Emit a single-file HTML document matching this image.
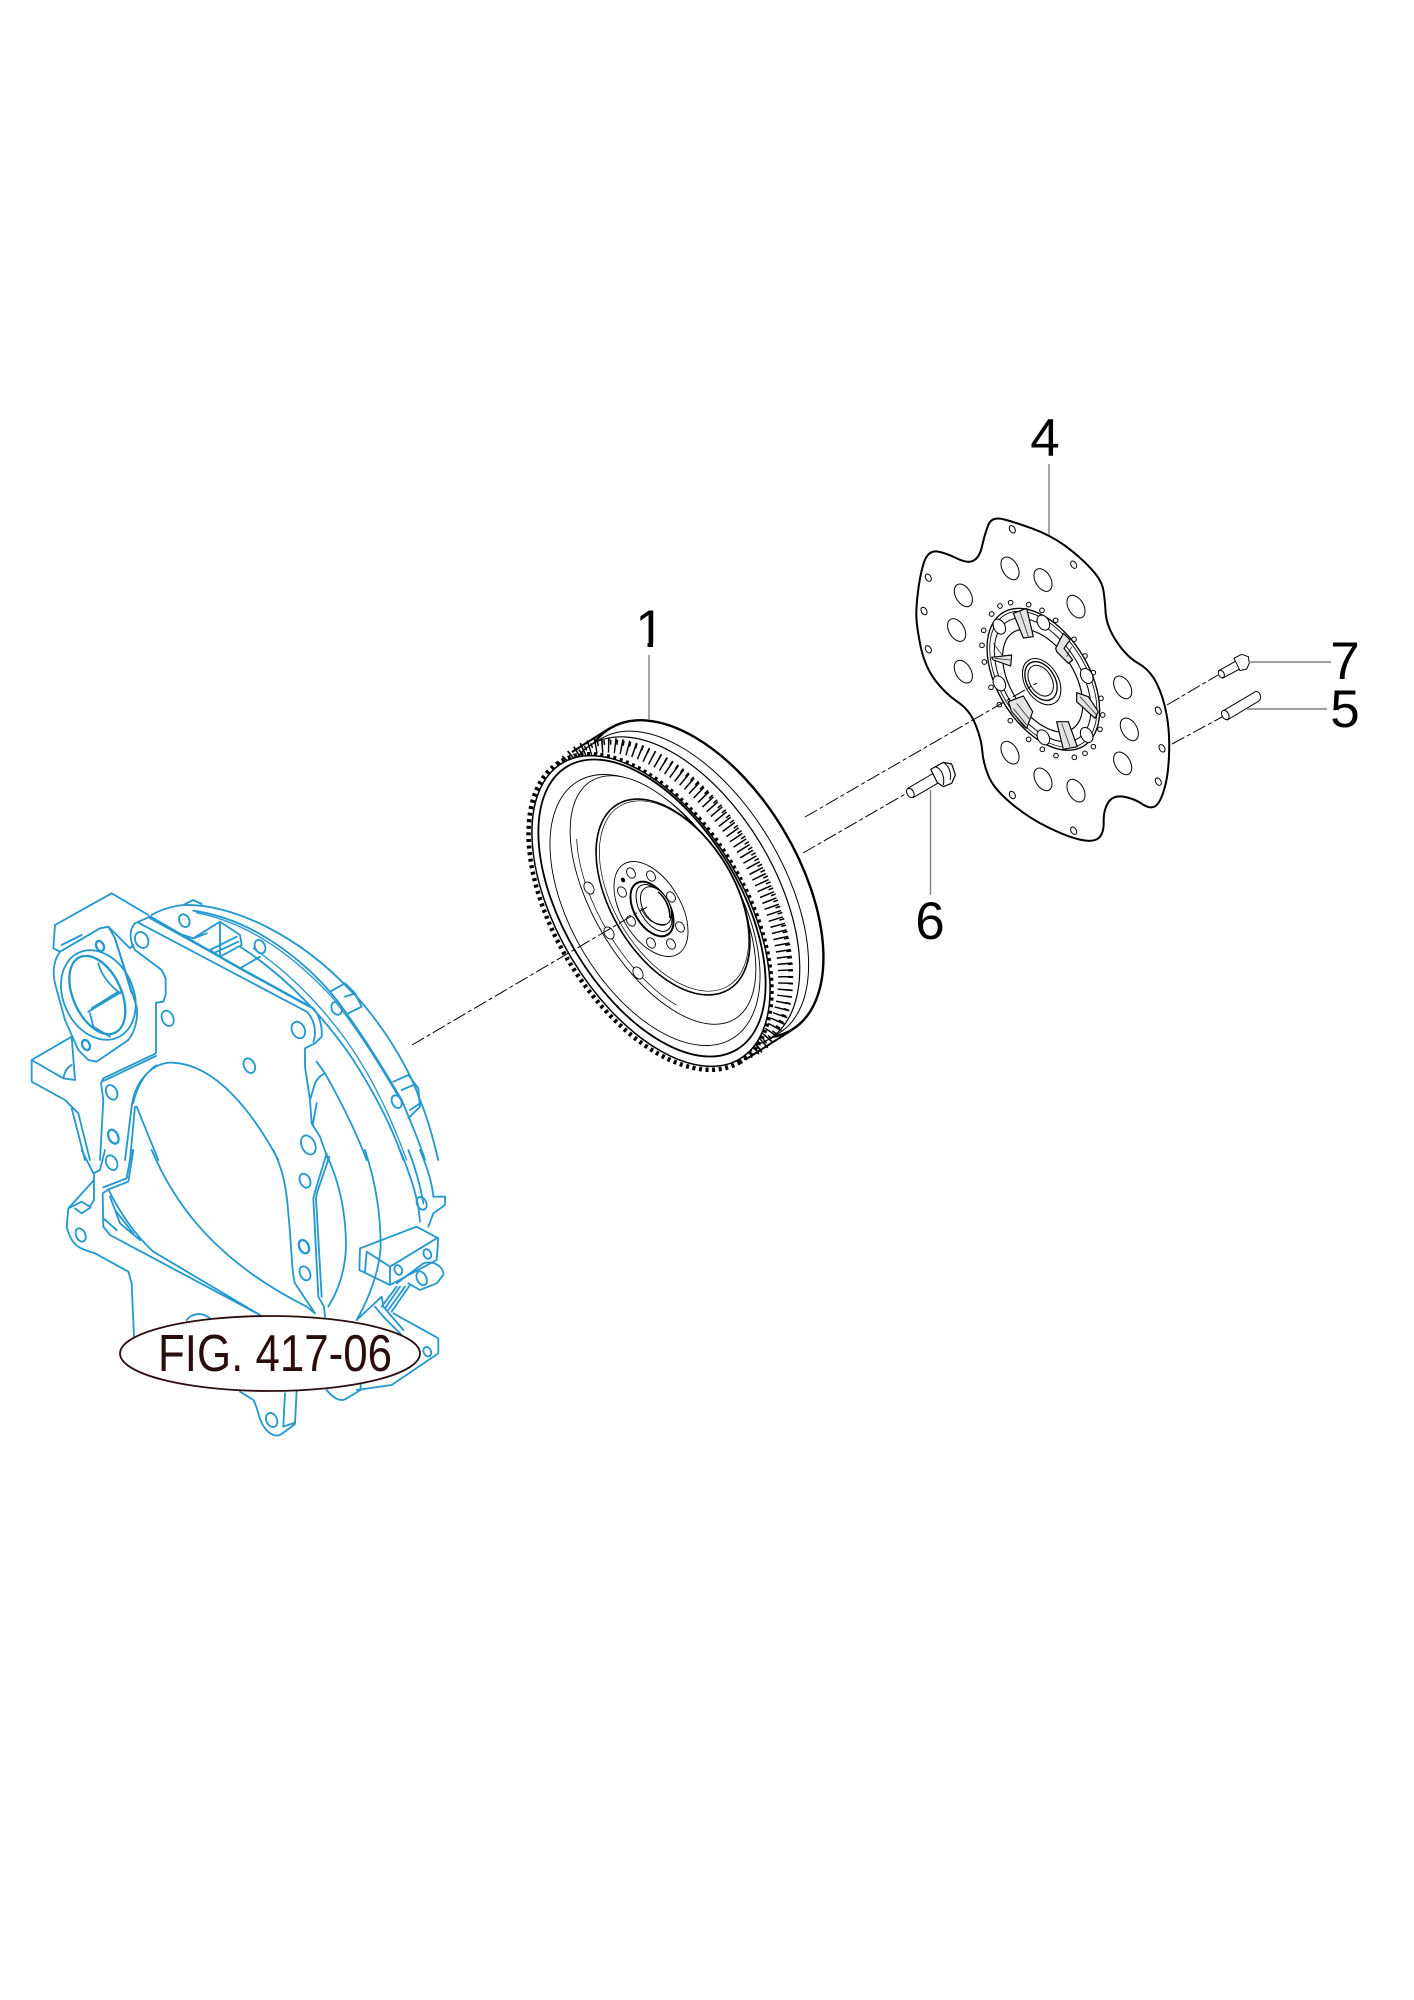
<!DOCTYPE html>
<html><head><meta charset="utf-8"><style>
html,body{margin:0;padding:0;background:#fff}
svg{display:block}
text{font-family:"Liberation Sans",sans-serif}
</style></head><body>
<svg width="1414" height="2000" viewBox="0 0 1414 2000" xmlns="http://www.w3.org/2000/svg">
<rect width="1414" height="2000" fill="#fff"/>

<!-- BLUE HOUSING upper -->
<g transform="translate(20,880) scale(.33333)" fill="none" stroke="#2498cf" stroke-width="5.5" stroke-linejoin="round" stroke-linecap="round">
<path d="M490,75 C640,70 840,170 990,330 L1010,350 C1090,440 1150,540 1185,620 L1200,660 C1225,720 1240,780 1255,840"/>
<path d="M395,105 C420,90 450,80 490,75 L520,60 L545,72"/>
<path d="M520,92 C720,120 880,270 950,360 C1040,480 1110,600 1145,660 C1170,720 1200,790 1215,840"/>
<path d="M530,98 C720,135 860,270 935,350 C1030,470 1100,590 1135,650" stroke-width="4"/>
<path d="M660,200 C800,290 920,420 1000,540 C1070,650 1120,750 1150,840"/>
<path d="M700,205 C840,300 960,440 1030,560 C1090,660 1130,760 1160,840" stroke-width="4"/>
<path d="M345,130 L385,112 L880,385 C900,410 907,440 905,470 L885,490 L855,505 L855,560 L870,660 L875,730 L900,770 L925,840"/>
<path d="M345,130 C325,150 330,185 345,210 L425,270 L437,295 L437,345 L430,365 L408,368 L408,520 L250,595 L243,610 L250,660 L240,840"/>
<path d="M355,128 L860,395 C885,420 890,460 880,485"/>
<path d="M390,110 L660,265 L870,380" stroke-width="7"/>
<path d="M408,528 L250,603"/>
<path d="M105,135 L275,40 L385,105 M105,135 L100,205 L120,215 M125,195 L185,165"/>
<path d="M105,310 C95,270 105,235 120,215 L240,145 L265,140 L285,175 L350,380 C355,415 345,455 325,480 L230,545 L205,540 L175,510 L135,420 Z"/>
<path d="M265,140 L330,205 L340,195 M285,175 L335,340"/>
<ellipse cx="235" cy="345" rx="105" ry="140" transform="rotate(-25 235 345)"/>
<ellipse cx="232" cy="345" rx="72" ry="125" transform="rotate(-25 232 345)" stroke-width="7"/>
<path d="M205,395 L305,335 M215,385 L295,335 M210,400 L220,440 L270,470 M235,250 C245,290 275,320 300,340"/>
<ellipse cx="240" cy="198" rx="11" ry="16" transform="rotate(-25 240 198)" stroke-width="7"/>
<ellipse cx="198" cy="495" rx="11" ry="16" transform="rotate(-25 198 495)" stroke-width="7"/>
<path d="M155,470 L35,540 L35,605 L135,660 L175,700 M35,540 L130,595 L165,600 L155,470 M130,595 C135,570 145,560 155,555 M175,700 L210,840 M155,685 L195,840" />
<path d="M335,680 C345,600 400,545 460,548 C590,555 700,700 775,840"/>
<path d="M340,670 C355,605 390,565 410,555" stroke-width="4"/>
<path d="M350,680 L415,840 M335,680 L315,840 M345,680 L330,840"/>
<path d="M520,175 L600,125 L660,165 L665,195 L600,230 L570,210 M490,165 L520,175 L560,160 M600,125 L600,230 M570,210 L650,170 M580,220 L655,185 M660,265 L720,230"/>
<path d="M930,335 L975,310 L1005,340 L1025,380 L985,400 M975,350 L1005,340 M1120,605 L1165,585 L1195,625 L1200,680 L1165,715 M1145,630 L1180,615 M1170,690 L1200,670"/>
<path d="M890,545 L915,580 C960,660 1010,760 1040,840 M885,610 C895,590 905,585 915,580 M885,610 L870,660 M890,670 L878,735"/>
<g>
<ellipse cx="365" cy="180" rx="19" ry="25" transform="rotate(-25 365 180)"/>
<ellipse cx="493" cy="122" rx="15" ry="20" transform="rotate(-25 493 122)"/>
<ellipse cx="720" cy="200" rx="15" ry="21" transform="rotate(-25 720 200)"/>
<ellipse cx="950" cy="385" rx="15" ry="20" transform="rotate(-25 950 385)"/>
<ellipse cx="1130" cy="665" rx="14" ry="20" transform="rotate(-25 1130 665)"/>
<ellipse cx="443" cy="415" rx="17" ry="24" transform="rotate(-25 443 415)"/>
<ellipse cx="835" cy="450" rx="19" ry="26" transform="rotate(-25 835 450)"/>
<ellipse cx="688" cy="557" rx="16" ry="23" transform="rotate(-25 688 557)"/>
<ellipse cx="275" cy="637" rx="16" ry="23" transform="rotate(-25 275 637)"/>
<ellipse cx="280" cy="770" rx="14" ry="22" transform="rotate(-25 280 770)" stroke-width="7"/>
<ellipse cx="865" cy="795" rx="20" ry="30" transform="rotate(-25 865 795)"/>
</g>
</g>

<!-- BLUE HOUSING lower -->
<g transform="translate(20,1150) scale(.33333)" fill="none" stroke="#2498cf" stroke-width="5.5" stroke-linejoin="round" stroke-linecap="round">
<path d="M185,0 L220,70 L240,60 L255,0 M222,90 L145,175 L140,230 C150,270 165,290 195,300 L225,310 L325,365 L335,400 L342,560"/>
<path d="M222,70 L222,150 L210,170 L185,155 L145,175 M165,175 L185,190 L212,172"/>
<path d="M340,0 L325,95 L265,118 L248,130 L250,230 L270,255 L720,495"/>
<path d="M335,0 L320,85 L250,112"/>
<path d="M265,118 C300,190 350,260 400,305 L720,495 M250,205 L290,240 M270,140 L300,220 L360,270 M285,180 L340,250"/>
<path d="M395,0 C450,130 560,320 860,470 L885,490"/>
<path d="M760,0 C790,60 800,120 805,190 C815,290 815,370 825,400 L885,490"/>
<path d="M920,10 L885,125 L880,145 L895,440 L912,470 L915,500"/>
<path d="M928,20 L892,125 L888,145 L905,440"/>
<path d="M920,15 C960,100 978,190 978,290 C975,370 950,430 925,470"/>
<path d="M1035,0 C1065,90 1082,190 1082,290 C1078,360 1050,440 1010,510"/>
<path d="M1140,0 C1165,60 1185,120 1195,170 L1200,215 M1165,0 C1185,50 1200,100 1210,160 M1200,0 C1220,50 1235,90 1240,140 L1275,140 L1275,165 L1240,190 L1225,230"/>
<path d="M1020,295 L1190,230 L1255,265 L1250,330 L1110,405 L1018,360 Z M1040,305 L1110,350 L1250,265 M1110,350 L1110,405 M1040,305 L1035,365"/>
<path d="M1130,400 L1190,355 L1210,340 C1240,330 1272,350 1270,375 L1250,400 L1200,420 L1165,400"/>
<path d="M1085,470 L1130,410 M1095,475 L1140,410 M1105,480 L1155,410 M1115,485 L1170,405"/>
<path d="M1010,510 L1085,440 L1090,470 L1150,540 M1065,470 L1090,500 L1145,555"/>
<path d="M1120,490 L1255,565 L1255,610 L1115,705 L1010,720"/>
<path d="M660,725 L700,750 C715,775 715,810 735,835 C750,855 770,862 785,852 L825,822 L830,720 M795,730 L790,830 L825,818"/>
<path d="M920,720 C940,745 960,755 975,748 L1022,720 L1022,700"/>
<path d="M500,510 C515,490 545,485 570,505"/>
<g>
<ellipse cx="275" cy="38" rx="16" ry="23" transform="rotate(-25 275 38)"/>
<ellipse cx="182" cy="255" rx="14" ry="21" transform="rotate(-25 182 255)"/>
<ellipse cx="855" cy="92" rx="15" ry="22" transform="rotate(-25 855 92)"/>
<ellipse cx="852" cy="290" rx="14" ry="21" transform="rotate(-25 852 290)" stroke-width="7"/>
<ellipse cx="855" cy="370" rx="15" ry="22" transform="rotate(-25 855 370)"/>
<ellipse cx="755" cy="810" rx="16" ry="22" transform="rotate(-25 755 810)"/>
<ellipse cx="1205" cy="160" rx="14" ry="20" transform="rotate(-25 1205 160)"/>
<ellipse cx="1135" cy="360" rx="11" ry="15" transform="rotate(-25 1135 360)"/>
<ellipse cx="1222" cy="312" rx="11" ry="15" transform="rotate(-25 1222 312)"/>
<ellipse cx="1222" cy="605" rx="11" ry="15" transform="rotate(-25 1222 605)"/>
<ellipse cx="1205" cy="385" rx="14" ry="22" transform="rotate(-25 1205 385)"/>
</g>
</g>

<!-- FIG ellipse -->
<ellipse cx="270" cy="1353.5" rx="150" ry="37.5" fill="#fff" stroke="#2a0e0e" stroke-width="1.8"/>
<text x="158" y="1371" font-size="52" fill="#2a0e0e" textLength="234" lengthAdjust="spacingAndGlyphs">FIG. 417-06</text>

<!-- FLYWHEEL -->
<g fill="#fff" stroke="#000">
<ellipse cx="701" cy="879" rx="176" ry="96" transform="rotate(59 701 879)" stroke-width="2.4"/>
<path d="M610,728 L572,752 M792,1030 L748,1058" stroke-width="2" fill="none"/>
<ellipse cx="690" cy="886" rx="172" ry="92" transform="rotate(59 690 886)" stroke-width="1"/>
<ellipse cx="680" cy="892" rx="172" ry="94" transform="rotate(59 680 892)" stroke-width="1.2"/>
<ellipse cx="667" cy="900" rx="172" ry="92" transform="rotate(59 667 900)" fill="none" stroke-width="15" stroke-dasharray="1.5 5"/>
<ellipse cx="672" cy="897" rx="172" ry="92" transform="rotate(59 672 897)" fill="none" stroke-width="5" stroke-dasharray="1.5 5" stroke-dashoffset="3"/>
<ellipse cx="650" cy="912" rx="175" ry="95" transform="rotate(59 650 912)" fill="none" stroke-width="4.5" stroke-dasharray="3 3.6"/>
<ellipse cx="651" cy="911" rx="172.5" ry="92.5" transform="rotate(59 651 911)" stroke-width="1.5"/>
<ellipse cx="652" cy="908" rx="165" ry="88" transform="rotate(59 652 908)" stroke-width="1.8"/>
<ellipse cx="655" cy="910" rx="150" ry="83" transform="rotate(59 655 910)" stroke-width=".9"/>
<ellipse cx="663" cy="900" rx="139" ry="69" transform="rotate(59 663 900)" stroke-width=".9"/>
<ellipse cx="665" cy="899" rx="132" ry="66" transform="rotate(59 665 899)" fill="none" stroke-width=".7" stroke-dasharray="200 800" stroke-dashoffset="-60"/>
<ellipse cx="673" cy="897" rx="108" ry="62" transform="rotate(59 673 897)" stroke-width="1.6"/>
<ellipse cx="674" cy="896" rx="105" ry="60" transform="rotate(59 674 896)" fill="none" stroke-width=".7"/>
<ellipse cx="651" cy="909" rx="52.5" ry="29.5" transform="rotate(59 651 909)" stroke-width=".9"/>
<ellipse cx="652" cy="909" rx="30" ry="17.5" transform="rotate(59 652 909)" stroke-width="2"/>
<ellipse cx="654" cy="908" rx="26" ry="14" transform="rotate(59 654 908)" stroke-width="1"/>
<ellipse cx="656" cy="906" rx="21" ry="13" transform="rotate(59 656 906)" stroke-width="1"/>
<path d="M658,892 C666,898 670,908 670,918" fill="none" stroke-width="1.6"/>
<path d="M641,908 C646,920 655,926 667,924" fill="none" stroke-width=".8"/>
<g stroke-width=".9">
<ellipse cx="631" cy="873" rx="5.5" ry="4" transform="rotate(59 631 873)"/>
<ellipse cx="651" cy="876" rx="5.5" ry="4" transform="rotate(59 651 876)"/>
<ellipse cx="671" cy="897" rx="5.5" ry="4" transform="rotate(59 671 897)"/>
<ellipse cx="680" cy="927" rx="5.5" ry="4" transform="rotate(59 680 927)"/>
<ellipse cx="671" cy="944" rx="5.5" ry="4" transform="rotate(59 671 944)"/>
<ellipse cx="651" cy="943" rx="5.5" ry="4" transform="rotate(59 651 943)"/>
<ellipse cx="631" cy="921" rx="5.5" ry="4" transform="rotate(59 631 921)"/>
<ellipse cx="622" cy="892" rx="5.5" ry="4" transform="rotate(59 622 892)"/>
<ellipse cx="589" cy="888" rx="6.5" ry="4.5" transform="rotate(59 589 888)"/>
<ellipse cx="609" cy="933" rx="6.5" ry="4.5" transform="rotate(59 609 933)"/>
<ellipse cx="638" cy="973" rx="6.5" ry="4.5" transform="rotate(59 638 973)"/>
</g>
<ellipse cx="623" cy="880" rx="2" ry="1.5" fill="#000" transform="rotate(59 623 880)"/>
</g>

<!-- DISC + small parts -->
<g transform="translate(880,400) scale(.33333)" fill="#fff" stroke="#000" stroke-width="3" stroke-linejoin="round">
<path stroke-width="6" d="M325,375 Q335,350 367,357 Q400,365 455,385 Q510,405 555,437 Q600,470 632,505 Q665,540 670,570 Q675,600 677,640 Q680,680 710,725 Q740,770 775,790 Q810,810 830,850 Q850,890 860,945 Q870,1000 867,1065 Q865,1130 852,1170 Q840,1210 825,1219 Q810,1228 785,1211 Q760,1195 730,1190 Q700,1185 685,1207 Q670,1230 671,1265 Q672,1300 656,1314 Q640,1328 600,1319 Q560,1310 500,1280 Q440,1250 390,1207 Q340,1165 325,1127 Q310,1090 307,1055 Q305,1020 287,975 Q270,930 232,905 Q195,880 165,840 Q135,800 122,740 Q110,680 109,650 Q108,620 116,560 Q125,500 137,475 Q150,450 175,455 Q200,460 232,476 Q265,492 282,481 Q300,470 307,435 Q315,400 325,375 Z"/>
<g>
<ellipse cx="250" cy="586" rx="23" ry="37" transform="rotate(-30 250 586)"/>
<ellipse cx="230" cy="690" rx="23" ry="37" transform="rotate(-30 230 690)"/>
<ellipse cx="250" cy="815" rx="23" ry="37" transform="rotate(-30 250 815)"/>
<ellipse cx="390" cy="505" rx="23" ry="37" transform="rotate(-30 390 505)"/>
<ellipse cx="489" cy="540" rx="23" ry="37" transform="rotate(-30 489 540)"/>
<ellipse cx="588" cy="620" rx="23" ry="37" transform="rotate(-30 588 620)"/>
<ellipse cx="728" cy="862" rx="23" ry="37" transform="rotate(-30 728 862)"/>
<ellipse cx="748" cy="988" rx="23" ry="37" transform="rotate(-30 748 988)"/>
<ellipse cx="728" cy="1090" rx="23" ry="37" transform="rotate(-30 728 1090)"/>
<ellipse cx="390" cy="1058" rx="23" ry="37" transform="rotate(-30 390 1058)"/>
<ellipse cx="489" cy="1138" rx="23" ry="37" transform="rotate(-30 489 1138)"/>
<ellipse cx="588" cy="1172" rx="23" ry="37" transform="rotate(-30 588 1172)"/>
</g>
<g>
<ellipse cx="397" cy="388" rx="8" ry="12" transform="rotate(-30 397 388)"/>
<ellipse cx="581" cy="494" rx="8" ry="12" transform="rotate(-30 581 494)"/>
<ellipse cx="145" cy="533" rx="8" ry="12" transform="rotate(-30 145 533)"/>
<ellipse cx="132" cy="633" rx="8" ry="12" transform="rotate(-30 132 633)"/>
<ellipse cx="145" cy="748" rx="8" ry="12" transform="rotate(-30 145 748)"/>
<ellipse cx="835" cy="932" rx="8" ry="12" transform="rotate(-30 835 932)"/>
<ellipse cx="846" cy="1045" rx="8" ry="12" transform="rotate(-30 846 1045)"/>
<ellipse cx="835" cy="1145" rx="8" ry="12" transform="rotate(-30 835 1145)"/>
<ellipse cx="397" cy="1185" rx="8" ry="12" transform="rotate(-30 397 1185)"/>
<ellipse cx="581" cy="1292" rx="8" ry="12" transform="rotate(-30 581 1292)"/>
</g>
<g>
<circle cx="360" cy="618" r="7"/><circle cx="392" cy="608" r="7"/><circle cx="446" cy="614" r="7"/><circle cx="486" cy="631" r="7"/><circle cx="527" cy="661" r="7"/><circle cx="582" cy="718" r="7"/><circle cx="615" cy="768" r="7"/><circle cx="640" cy="818" r="7"/><circle cx="663" cy="895" r="7"/><circle cx="668" cy="945" r="7"/><circle cx="660" cy="988" r="7"/><circle cx="640" cy="1040" r="7"/><circle cx="615" cy="1060" r="7"/><circle cx="583" cy="1072" r="7"/><circle cx="528" cy="1067" r="7"/><circle cx="487" cy="1048" r="7"/><circle cx="446" cy="1018" r="7"/><circle cx="391" cy="962" r="7"/><circle cx="358" cy="914" r="7"/><circle cx="333" cy="862" r="7"/><circle cx="313" cy="786" r="7"/><circle cx="306" cy="736" r="7"/><circle cx="311" cy="691" r="7"/><circle cx="335" cy="642" r="7"/>
</g>
<ellipse cx="490" cy="838" rx="234" ry="138" transform="rotate(59 490 838)" stroke-width="4"/>
<ellipse cx="490" cy="838" rx="225" ry="130" transform="rotate(59 490 838)" fill="none" stroke-width="2.5"/>
<ellipse cx="488" cy="840" rx="205" ry="116" transform="rotate(59 488 840)" fill="none" stroke-width="3"/>
<ellipse cx="488" cy="842" rx="170" ry="96" transform="rotate(59 488 842)" stroke-width="3.5"/>
<g>
<ellipse cx="358" cy="680" rx="17" ry="24" transform="rotate(-30 358 680)"/>
<ellipse cx="490" cy="668" rx="17" ry="24" transform="rotate(-30 490 668)"/>
<ellipse cx="620" cy="828" rx="17" ry="24" transform="rotate(-30 620 828)"/>
<ellipse cx="620" cy="1005" rx="17" ry="24" transform="rotate(-30 620 1005)"/>
<ellipse cx="490" cy="1012" rx="17" ry="24" transform="rotate(-30 490 1012)"/>
<ellipse cx="358" cy="850" rx="17" ry="24" transform="rotate(-30 358 850)"/>
</g>
<g fill="#e4e4e4" stroke-width="3.5">
<path d="M400,640 L440,625 L460,710 L430,714 Z"/>
<path d="M527,745 L550,700 L570,720 L552,745 L578,780 L565,790 L530,755 Z"/>
<path d="M335,772 L395,765 L392,798 L340,780 Z"/>
<path d="M590,878 L625,890 L655,935 L645,955 L590,905 Z"/>
<path d="M530,965 L565,965 L592,1040 L550,1048 Z"/>
<path d="M385,905 L430,888 L458,935 L440,985 L395,935 Z"/>
</g>
<path d="M420,635 L445,710 M345,775 L390,780 M600,890 L650,945 M545,970 L570,1040 M340,730 L370,770 M560,770 L575,740 M400,925 L440,975 M392,930 L435,985 M410,910 L450,960" fill="none" stroke="#333" stroke-width="2.5"/>
<ellipse cx="485" cy="845" rx="75" ry="50" transform="rotate(59 485 845)" stroke-width="3"/>
<ellipse cx="483" cy="843" rx="63" ry="42" transform="rotate(59 483 843)" stroke-width="4"/>
<ellipse cx="482" cy="842" rx="50" ry="33" transform="rotate(59 482 842)" stroke-width="3"/>

<!-- bolt 6 -->
<path d="M83,1165 L167,1116 L183,1144 L99,1193 Z" stroke-width="3"/>
<ellipse cx="91" cy="1179" rx="10" ry="15" transform="rotate(-30 91 1179)"/>
<path d="M152,1108 L190,1087 L215,1092 L226,1125 L215,1150 L190,1160 L172,1148 Z" stroke-width="3.5"/>
<path d="M165,1100 C185,1105 195,1130 190,1155 M190,1087 C210,1100 215,1125 210,1140" fill="none"/>
<!-- bolt 7 -->
<path d="M1016,812 L1070,782 L1083,805 L1027,835 Z"/>
<ellipse cx="1024" cy="822" rx="8" ry="12" transform="rotate(-30 1024 822)"/>
<path d="M1062,775 L1085,763 L1105,770 L1108,790 L1100,807 L1080,812 Z"/>
<!-- pin 5 -->
<path d="M1030,932 L1128,874 C1142,875 1145,895 1138,902 L1042,960 Z"/>
<ellipse cx="1036" cy="945" rx="10" ry="15" transform="rotate(-30 1036 945)"/>
</g>

<!-- dashed center lines -->
<g fill="none" stroke="#000" stroke-width="1" stroke-dasharray="14 3 4 3">
<path d="M412,1045 L647,907"/>
<path d="M805,817 L1037,683"/>
<path d="M803,853 L907,793"/>
<path d="M1167,705 L1218,675"/>
<path d="M1172,744 L1222,717"/>
</g>

<!-- leaders -->
<g stroke="#808080" stroke-width="1.4" fill="none">
<path d="M649,655 V720"/>
<path d="M1049,464 V535"/>
<path d="M1249,662 H1331"/>
<path d="M1247,709 H1327"/>
<path d="M930.5,790 V895"/>
</g>

<!-- labels -->
<g font-size="53" fill="#000" text-anchor="middle">
<text x="650" y="647">1</text>
<text x="1045" y="456">4</text>
<text x="1345" y="679">7</text>
<text x="1345" y="727">5</text>
<text x="930" y="939">6</text>
</g>
<rect x="630" y="642.5" width="17.5" height="7" fill="#fff"/>
<rect x="653" y="642.5" width="17" height="7" fill="#fff"/>
</svg>
</body></html>
